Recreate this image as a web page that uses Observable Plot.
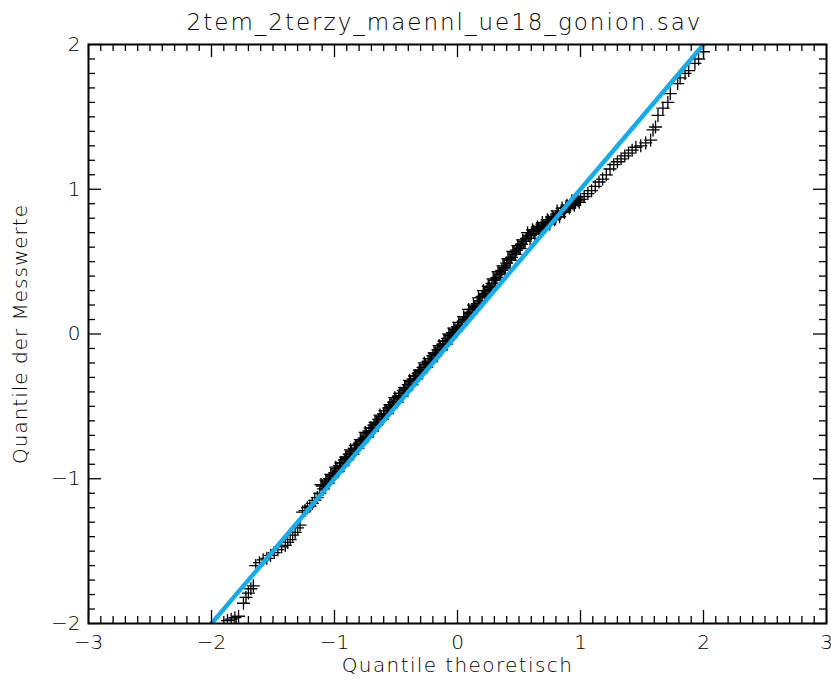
<!DOCTYPE html>
<html>
<head>
<meta charset="utf-8">
<script src="https://cdn.jsdelivr.net/npm/d3@7"></script>
<script src="https://cdn.jsdelivr.net/npm/@observablehq/plot@0.6"></script>
<style>
  html, body { margin: 0; padding: 0; background: #fff; }
  #chart svg { display: block; }
</style>
</head>
<body>
<div id="chart"></div>
<script>
// ---- data ----
const titleText = "2tem_2terzy_maennl_ue18_gonion.sav";
const xLabel = "Quantile theoretisch";
const yLabel = "Quantile der Messwerte";

const xMajor = [-3, -2, -1, 0, 1, 2, 3];
const yMajor = [-2, -1, 0, 1, 2];

// theoretical quantiles (x) and sample quantiles (y)
const qTheo = [
  -1.87, -1.84, -1.81, -1.78, -1.74, -1.72, -1.70, -1.68, -1.66,
  -1.64, -1.61, -1.58, -1.55, -1.52, -1.49, -1.46, -1.43, -1.40, -1.38,
  -1.36, -1.34, -1.32, -1.30, -1.28, -1.26, -1.24, -1.22, -1.20, -1.18,
  -1.16, -1.14, -1.12, -1.10, -1.08, -1.06, -1.04, -1.02, -1.00, -0.98,
  -0.96, -0.94, -0.92, -0.90, -0.88, -0.86, -0.84, -0.82, -0.80, -0.78,
  -0.76, -0.74, -0.72, -0.70, -0.68, -0.66, -0.64, -0.62, -0.60, -0.58,
  -0.56, -0.54, -0.52, -0.50, -0.48, -0.46, -0.44, -0.42, -0.40, -0.38,
  -0.36, -0.34, -0.32, -0.30, -0.28, -0.26, -0.24, -0.22, -0.20, -0.18,
  -0.16, -0.14, -0.12, -0.10, -0.08, -0.06, -0.04, -0.02, 0.00, 0.02,
  0.04, 0.06, 0.08, 0.10, 0.12, 0.14, 0.16, 0.18, 0.20, 0.22,
  0.24, 0.26, 0.28, 0.30, 0.32, 0.34, 0.36, 0.38, 0.40, 0.42,
  0.44, 0.46, 0.48, 0.50, 0.52, 0.54, 0.56, 0.58, 0.60, 0.62,
  0.64, 0.66, 0.68, 0.70, 0.72, 0.74, 0.76, 0.78, 0.80, 0.82,
  0.84, 0.86, 0.88, 0.90, 0.92, 0.94, 0.96, 0.98, 1.00, 1.03,
  1.06, 1.09, 1.12, 1.15, 1.18, 1.21, 1.24, 1.27, 1.30, 1.33,
  1.36, 1.39, 1.42, 1.45, 1.49, 1.53, 1.57, 1.59, 1.61, 1.63,
  1.67, 1.71, 1.73, 1.79, 1.81, 1.85, 1.88, 1.93, 1.96, 2.00
];
const qSample = [
  -1.98, -1.97, -1.96, -1.95, -1.86, -1.82, -1.79, -1.76, -1.74,
  -1.60, -1.58, -1.56, -1.55, -1.53, -1.51, -1.49, -1.47, -1.46, -1.44,
  -1.42, -1.39, -1.37, -1.34, -1.32, -1.23, -1.22, -1.20, -1.19, -1.17,
  -1.15, -1.13, -1.10, -1.05, -1.04, -1.02, -1.00, -0.98, -0.96, -0.93,
  -0.91, -0.89, -0.87, -0.85, -0.83, -0.81, -0.79, -0.77, -0.76, -0.74,
  -0.72, -0.69, -0.67, -0.65, -0.63, -0.61, -0.59, -0.57, -0.55, -0.53,
  -0.51, -0.49, -0.47, -0.45, -0.43, -0.41, -0.39, -0.37, -0.35, -0.33,
  -0.31, -0.29, -0.27, -0.25, -0.23, -0.21, -0.19, -0.17, -0.15, -0.13,
  -0.11, -0.09, -0.07, -0.05, -0.03, -0.01, 0.01, 0.03, 0.05, 0.06,
  0.08, 0.10, 0.12, 0.15, 0.17, 0.19, 0.21, 0.23, 0.26, 0.28,
  0.30, 0.32, 0.35, 0.37, 0.39, 0.42, 0.44, 0.46, 0.49, 0.51,
  0.53, 0.56, 0.58, 0.60, 0.62, 0.64, 0.66, 0.68, 0.69, 0.71,
  0.72, 0.73, 0.74, 0.75, 0.77, 0.78, 0.79, 0.80, 0.81, 0.83,
  0.84, 0.85, 0.87, 0.88, 0.89, 0.90, 0.91, 0.92, 0.93, 0.95,
  0.97, 0.99, 1.02, 1.05, 1.07, 1.10, 1.14, 1.17, 1.19, 1.21,
  1.23, 1.25, 1.27, 1.29, 1.30, 1.32, 1.34, 1.41, 1.43, 1.51,
  1.56, 1.60, 1.66, 1.73, 1.77, 1.80, 1.82, 1.87, 1.90, 1.95
];

// the dense middle of the cloud: further points between the ones above
const qTheoMid = [
  -1.11, -1.09, -1.07, -1.05, -1.03, -1.01, -0.99, -0.97, -0.95, -0.93,
  -0.91, -0.89, -0.87, -0.85, -0.83, -0.81, -0.79, -0.77, -0.75, -0.73,
  -0.71, -0.69, -0.67, -0.65, -0.63, -0.61, -0.59, -0.57, -0.55, -0.53,
  -0.51, -0.49, -0.47, -0.45, -0.43, -0.41, -0.39, -0.37, -0.35, -0.33,
  -0.31, -0.29, -0.27, -0.25, -0.23, -0.21, -0.19, -0.17, -0.15, -0.13,
  -0.11, -0.09, -0.07, -0.05, -0.03, -0.01, 0.01, 0.03, 0.05, 0.07,
  0.09, 0.11, 0.13, 0.15, 0.17, 0.19, 0.21, 0.23, 0.25, 0.27,
  0.29, 0.31, 0.33, 0.35, 0.37, 0.39, 0.41, 0.43, 0.45, 0.47,
  0.49, 0.51, 0.53, 0.55, 0.57, 0.59, 0.61, 0.63, 0.65, 0.67,
  0.69, 0.71, 0.73, 0.75, 0.77, 0.79, 0.81, 0.83, 0.85, 0.87,
  0.89, 0.91, 0.93, 0.95, 0.97, 0.99
];
const qSampleMid = [
  -1.04, -1.07, -1.01, -1.03, -0.97, -0.98, -0.92, -0.95, -0.89, -0.91,
  -0.85, -0.86, -0.80, -0.83, -0.77, -0.79, -0.73, -0.74, -0.68, -0.71,
  -0.65, -0.67, -0.61, -0.62, -0.56, -0.59, -0.53, -0.55, -0.49, -0.50,
  -0.44, -0.47, -0.41, -0.43, -0.37, -0.38, -0.32, -0.35, -0.29, -0.31,
  -0.25, -0.26, -0.20, -0.23, -0.17, -0.19, -0.13, -0.14, -0.08, -0.11,
  -0.05, -0.07, 0.00, -0.02, 0.04, 0.02, 0.08, 0.06, 0.12, 0.11,
  0.17, 0.14, 0.20, 0.18, 0.25, 0.23, 0.30, 0.27, 0.33, 0.31,
  0.38, 0.37, 0.43, 0.41, 0.47, 0.45, 0.52, 0.51, 0.57, 0.55,
  0.61, 0.59, 0.65, 0.64, 0.70, 0.66, 0.72, 0.69, 0.74, 0.72,
  0.77, 0.74, 0.79, 0.76, 0.81, 0.79, 0.85, 0.81, 0.87, 0.84,
  0.89, 0.87, 0.92, 0.89, 0.94, 0.91
];

// reference line (normal fit)
const refX = [-2, 2];
const refY = [-2, 2];

// ---- build ----
const points = qTheo.map((x, i) => ({x, y: qSample[i]}))
  .concat(qTheoMid.map((x, i) => ({x, y: qSampleMid[i]})));
const refLine = refX.map((x, i) => ({x, y: refY[i]}));
const xMinor = d3.range(-30, 31).map(d => d / 10).filter(d => !xMajor.includes(d));
const yMinor = d3.range(-20, 21).map(d => d / 10).filter(d => !yMajor.includes(d));

const W = 831, H = 680;
const mL = 88, mR = 5, mT = 44, mB = 57;
const pw = W - mL - mR, ph = H - mT - mB;
const majLen = 13, minLen = 7;
const fmt = d => d < 0 ? "\u2212" + (-d) : String(d);

const plusSymbol = {
  draw(ctx, size) {
    const r = Math.sqrt(size / Math.PI);
    ctx.moveTo(-r, 0); ctx.lineTo(r, 0);
    ctx.moveTo(0, -r); ctx.lineTo(0, r);
  }
};

const font = "DejaVu Sans, sans-serif";
const tw = 300;

const chart = Plot.plot({
  width: W, height: H,
  marginLeft: mL, marginRight: mR, marginTop: mT, marginBottom: mB,
  style: {fontFamily: font, fontSize: "20px", color: "#000", background: "#fff"},
  x: {domain: [-3, 3], axis: null},
  y: {domain: [-2, 2], axis: null},
  marks: [
    // data
    Plot.dot(points, {x: "x", y: "y", symbol: plusSymbol, r: 6.5, stroke: "#000", strokeWidth: 1.3, fill: "none", clip: true}),
    Plot.line(refLine, {x: "x", y: "y", stroke: "#14acec", strokeWidth: 4.5, clip: true}),
    // ticks, all four sides, pointing inward
    Plot.tickX(xMajor, {x: d => d, insetTop: ph - majLen, stroke: "#000", strokeWidth: 1.3}),
    Plot.tickX(xMinor, {x: d => d, insetTop: ph - minLen, stroke: "#000", strokeWidth: 1.3}),
    Plot.tickX(xMajor, {x: d => d, insetBottom: ph - majLen, stroke: "#000", strokeWidth: 1.3}),
    Plot.tickX(xMinor, {x: d => d, insetBottom: ph - minLen, stroke: "#000", strokeWidth: 1.3}),
    Plot.tickY(yMajor, {y: d => d, insetRight: pw - majLen, stroke: "#000", strokeWidth: 1.3}),
    Plot.tickY(yMinor, {y: d => d, insetRight: pw - minLen, stroke: "#000", strokeWidth: 1.3}),
    Plot.tickY(yMajor, {y: d => d, insetLeft: pw - majLen, stroke: "#000", strokeWidth: 1.3}),
    Plot.tickY(yMinor, {y: d => d, insetLeft: pw - minLen, stroke: "#000", strokeWidth: 1.3}),
    // tick labels
    Plot.text(xMajor, {x: d => d, frameAnchor: "bottom", dy: 19, text: fmt, fontSize: 20, fontWeight: tw, fill: "#000", lineAnchor: "middle"}),
    Plot.text(yMajor, {y: d => d, frameAnchor: "left", dx: -8, text: fmt, fontSize: 20, fontWeight: tw, fill: "#000", textAnchor: "end"}),
    Plot.frame({stroke: "#000", strokeWidth: 2}),
    // titles
    Plot.text([titleText], {frameAnchor: "top", dx: -13, dy: -22, text: d => d, fontSize: 23, fontWeight: tw, fill: "#000", lineAnchor: "middle", textAnchor: "middle"}),
    Plot.text([xLabel], {frameAnchor: "bottom", dy: 42, text: d => d, fontSize: 20, fontWeight: tw, fill: "#000", lineAnchor: "middle", textAnchor: "middle"}),
    Plot.text([yLabel], {frameAnchor: "left", dx: -68, rotate: -90, text: d => d, fontSize: 20, fontWeight: tw, fill: "#000", lineAnchor: "middle", textAnchor: "middle"})
  ]
});
document.getElementById("chart").appendChild(chart);

// letter spacing to match the wide plotter font of the original
const spacing = new Map([[titleText, "2px"], [xLabel, "1.4px"], [yLabel, "1px"]]);
d3.select(chart).selectAll("text").each(function() {
  const s = spacing.get(this.textContent);
  if (s) this.style.letterSpacing = s;
});
</script>
</body>
</html>
